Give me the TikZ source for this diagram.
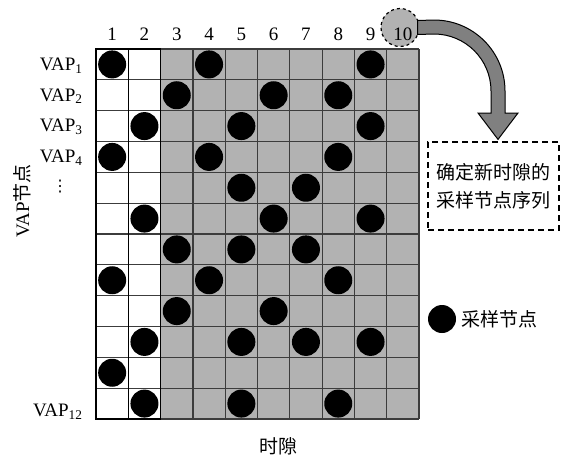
\documentclass[tikz,border=0pt]{standalone}
\usepackage{fontspec}
\setmainfont{Liberation Serif}
\newfontfamily\cjk{Noto Sans CJK SC}
\newfontfamily\symfont{DejaVu Sans}
\usepackage{tikz}
\usetikzlibrary{calc, positioning}
\definecolor{cellgray}{RGB}{178, 178, 178}
\definecolor{arrowgray}{RGB}{128, 128, 128}
\definecolor{gridline}{RGB}{60, 60, 60}

\begin{document}
\begin{tikzpicture}[x=1pt, y=-1pt,
    every node/.style={font=\fontsize{19}{20}\selectfont},
    sample/.style={circle, fill=black, minimum size=28, inner sep=0},
    vaplabel/.style={anchor=east, font=\fontsize{19}{20}\selectfont},
    cjktext/.style={font=\cjk\fontsize{19}{28}\selectfont}]
        \useasboundingbox (0,0) rectangle (564,458);
        % Slot grid: white slots 1-2, gray slots 3-10
        \fill[cellgray] (160.6,49) rectangle (419,419);
        \foreach \i in {0,...,10}
            \draw[gridline, line width=1.2] (96+32.3*\i,49) -- (96+32.3*\i,419);
        \foreach \j in {0,...,12}
            \draw[gridline, line width=1.2] (96,49+30.833*\j) -- (419,49+30.833*\j);
        \draw[black, line width=1.6] (96,49) rectangle (160.6,419);
        \draw[black, line width=1.2] (128.3,49) -- (128.3,419);

        \foreach \r/\cs in {1/{1,4,9}, 2/{3,6,8}, 3/{2,5,9}, 4/{1,4,8}, 5/{5,7}, 6/{2,6,9},
                            7/{3,5,7}, 8/{1,4,8}, 9/{3,6}, 10/{2,5,7,9}, 11/{1}, 12/{2,5,8}}
            \foreach \c in \cs
                \node[sample] (d\r-\c) at (96+32.3*\c-16.15, 49+30.833*\r-15.42) {};

        \node[draw, dashed, circle, fill=cellgray, minimum size=38, line width=1.2] (c10) at (400,27.5) {};
        \foreach \c in {1,...,10}
            \node (t\c) at (96+32.3*\c-16.15, 34) {\c};

        \foreach \r in {1,...,4}
            \node[vaplabel] (v\r) at (86, 49+30.833*\r-14.4) {VAP\textsubscript{\r}};
        \node[font=\symfont\fontsize{16}{18}\selectfont] (vdots) at (60,187) {⋮};
        \node[vaplabel] (v12) at (86,412) {VAP\textsubscript{12}};

        \node[rotate=90] (ylab) at (22,201) {VAP{\cjk 节点}};
        \node[cjktext] (xlab) at (278,446) {时隙};

        \node[draw, dash pattern=on 6 off 4, line width=1.2, minimum width=131, minimum height=88,
              align=center, cjktext] (newseq) at (493.5,186) {确定新时隙的\\采样节点序列};
        \filldraw[fill=arrowgray, draw=black, line width=1]
            ($(c10.east)+(-2,-7)$) -- (434,20) arc[start angle=-90, end angle=0, radius=71]
            -- (505,113) -- (518,113) -- ($(newseq.north)+(4.5,-2)$) -- (478,113) -- (491,113)
            -- (491,91) arc[start angle=0, end angle=-90, radius=57] -- ($(c10.east)+(-2,7)$) -- cycle;

        \node[sample] (legdot) at (442,319) {};
        \node[cjktext, right=2pt of legdot] (legtxt) {采样节点};
    \end{tikzpicture}
\end{document}
